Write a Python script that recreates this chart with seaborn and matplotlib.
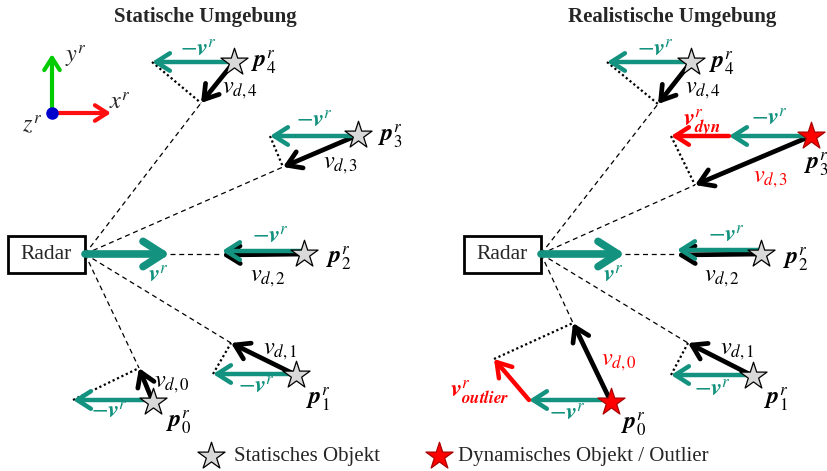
import matplotlib
matplotlib.use("Agg")
import matplotlib.pyplot as plt
import seaborn as sns
import pandas as pd

# ---- diagram geometry (pixel coordinates of the reference, y downwards) ----
TEAL = '#13927f'
RED = '#ff0000'

radar_L = (85, 254)
radar_R = (541, 254)
vr_tip_L = (170, 254)
vr_tip_R = (625, 254)

# left panel: static scene, points p0..p4
stars_L_x = [153, 296, 304, 358, 234]
stars_L_y = [402, 375, 254, 135, 62]
vneg_L_x = [73, 213, 222, 270, 152]
vneg_L_y = [400, 374, 251, 136, 62]
vd_L_x = [139, 231, 222, 283, 201]
vd_L_y = [368, 343, 255, 167, 103]

# right panel: realistic scene, points p0..p4
stars_R_x = [611, 753, 761, 811, 691]
stars_R_y = [402, 376, 254, 136, 62]
stars_R_dyn = [True, False, False, True, False]
vneg_R_x = [529, 671, 677, 729, 607]
vneg_R_y = [400, 375, 250, 136, 62]
vd_R_x = [573, 688, 677, 695, 658]
vd_R_y = [323, 343, 255, 185, 104]
vdyn_tip = (671, 136)
voutlier_tip = (494, 359)


def arrow(ax, start, end, color, lw=3.2, scale=18, z=3):
    ax.annotate('', xy=end, xytext=start, zorder=z,
                arrowprops=dict(arrowstyle='->,head_length=0.55,head_width=0.35',
                                lw=lw, color=color, shrinkA=0, shrinkB=0,
                                mutation_scale=scale, capstyle='round',
                                joinstyle='round'))


def line(ax, a, b, style):
    if style == 'dash':
        ax.plot([a[0], b[0]], [a[1], b[1]], color='black', lw=0.9,
                dashes=(4, 3), zorder=1)
    else:
        ax.plot([a[0], b[0]], [a[1], b[1]], color='black', lw=1.6,
                ls=(0, (1, 1.2)), zorder=1)


sns.set_style('white')
plt.rcParams['font.family'] = ['Liberation Serif', 'DejaVu Serif']
plt.rcParams['mathtext.fontset'] = 'stix'

fig = plt.figure(figsize=(8.28, 4.71), dpi=100)
ax = fig.add_axes([0, 0, 1, 1])
ax.set_xlim(0, 828)
ax.set_ylim(471, 0)
ax.axis('off')

MS = 17.5  # math label size

# titles
ax.text(205, 17, 'Statische Umgebung', ha='center', va='center',
        fontsize=15, fontweight='bold')
ax.text(672, 17, 'Realistische Umgebung', ha='center', va='center',
        fontsize=15, fontweight='bold')

# coordinate frame
arrow(ax, (52, 113), (52, 54), '#00cc00', lw=3, scale=16)
arrow(ax, (52, 113), (111, 113), '#ff1010', lw=3, scale=16)
ax.plot([52], [113], 'o', color='#0000cc', ms=8, zorder=5)
ax.text(76, 63, '$y^r$', fontsize=MS, ha='center', va='baseline')
ax.text(120, 110, '$x^r$', fontsize=MS, ha='center', va='baseline')
ax.text(32, 132, '$z^r$', fontsize=MS, ha='center', va='baseline')

# radar boxes and ego velocity
for (rx, ry), tip in [(radar_L, vr_tip_L), (radar_R, vr_tip_R)]:
    ax.add_patch(plt.Rectangle((rx - 77, ry - 18), 77, 37, fill=False,
                               lw=2, ec='black', zorder=2))
    ax.text(rx - 38.5, ry + 0.5, 'Radar', ha='center', va='center', fontsize=15.5)
    arrow(ax, (rx, ry), tip, TEAL, lw=5.5, scale=26, z=4)
    ax.text(tip[0] - 12, ry + 29, r'$\mathbfit{v}^r$', color=TEAL,
            fontsize=MS, ha='center', va='baseline')
    line(ax, tip, (tip[0] + 52, ry), 'dash')

# left panel vectors
for i in range(5):
    s = (stars_L_x[i], stars_L_y[i])
    vn = (vneg_L_x[i], vneg_L_y[i])
    vd = (vd_L_x[i], vd_L_y[i])
    if i != 2:
        line(ax, radar_L, vd, 'dash')
        line(ax, vn, vd, 'dot')
    arrow(ax, s, vd, 'black', lw=3.4)
    arrow(ax, (s[0], vn[1]), vn, TEAL, lw=3.2)

# right panel vectors
for i in range(5):
    s = (stars_R_x[i], stars_R_y[i])
    vn = (vneg_R_x[i], vneg_R_y[i])
    vd = (vd_R_x[i], vd_R_y[i])
    if i != 2:
        line(ax, radar_R, vd, 'dash')
    arrow(ax, s, vd, 'black', lw=3.4)
    arrow(ax, (s[0], vn[1]), vn, TEAL, lw=3.2)
    if i == 3:
        arrow(ax, vn, vdyn_tip, RED, lw=3.2)
        line(ax, vdyn_tip, vd, 'dot')
    elif i == 0:
        arrow(ax, vn, voutlier_tip, RED, lw=3.2)
        line(ax, voutlier_tip, vd, 'dot')
    elif i != 2:
        line(ax, vn, vd, 'dot')

# stars
stars = pd.DataFrame({
    'x': stars_L_x + stars_R_x,
    'y': stars_L_y + stars_R_y,
    'dyn': [False] * 5 + stars_R_dyn,
})
for dyn, fc in [(False, '#d9d9d9'), (True, RED)]:
    sub = stars[stars['dyn'] == dyn]
    sns.scatterplot(data=sub, x='x', y='y', marker='*', s=420, color=fc,
                    edgecolor='black' if not dyn else '#aa0000',
                    linewidth=0.9, zorder=6, ax=ax, legend=False)
ax.set_xlim(0, 828)
ax.set_ylim(471, 0)
ax.axis('off')

# labels (x centre, baseline y)
labels = [
    # left
    (264, 67, r'$\mathbfit{p}_4^r$', 'black'),
    (240, 93, r'$v_{d,4}$', 'black'),
    (198, 57, r'$-\mathbfit{v}^r$', TEAL),
    (390, 141, r'$\mathbfit{p}_3^r$', 'black'),
    (341, 168, r'$v_{d,3}$', 'black'),
    (314, 128, r'$-\mathbfit{v}^r$', TEAL),
    (339, 263, r'$\mathbfit{p}_2^r$', 'black'),
    (268, 281, r'$v_{d,2}$', 'black'),
    (270, 244, r'$-\mathbfit{v}^r$', TEAL),
    (318, 404, r'$\mathbfit{p}_1^r$', 'black'),
    (280, 354, r'$v_{d,1}$', 'black'),
    (256, 394, r'$-\mathbfit{v}^r$', TEAL),
    (179, 427, r'$\mathbfit{p}_0^r$', 'black'),
    (172, 387, r'$v_{d,0}$', 'black'),
    (109, 419, r'$-\mathbfit{v}^r$', TEAL),
    # right
    (722, 68, r'$\mathbfit{p}_4^r$', 'black'),
    (703, 93, r'$v_{d,4}$', 'black'),
    (655, 57, r'$-\mathbfit{v}^r$', TEAL),
    (816, 169, r'$\mathbfit{p}_3^r$', 'black'),
    (771, 182, r'$v_{d,3}$', RED),
    (769, 126, r'$-\mathbfit{v}^r$', TEAL),
    (702, 127, r'$\mathbfit{v}^r_{\mathbfit{dyn}}$', RED),
    (796, 264, r'$\mathbfit{p}_2^r$', 'black'),
    (722, 281, r'$v_{d,2}$', 'black'),
    (726, 243, r'$-\mathbfit{v}^r$', TEAL),
    (776, 404, r'$\mathbfit{p}_1^r$', 'black'),
    (737, 354, r'$v_{d,1}$', 'black'),
    (712, 397, r'$-\mathbfit{v}^r$', TEAL),
    (634, 429, r'$\mathbfit{p}_0^r$', 'black'),
    (619, 365, r'$v_{d,0}$', RED),
    (567, 421, r'$-\mathbfit{v}^r$', TEAL),
    (480, 397, r'$\mathbfit{v}^r_{\mathbfit{outlier}}$', RED),
]
for x, y, txt, c in labels:
    ax.text(x, y, txt, color=c, fontsize=MS, ha='center', va='baseline')

# legend row
ax.scatter([211], [456], marker='*', s=420, color='#d9d9d9',
           edgecolor='black', linewidth=0.9, zorder=6)
ax.text(234, 457, 'Statisches Objekt', fontsize=15, va='center')
ax.scatter([439], [456], marker='*', s=420, color=RED,
           edgecolor='#aa0000', linewidth=0.9, zorder=6)
ax.text(458, 457, 'Dynamisches Objekt / Outlier', fontsize=15, va='center')

fig.savefig('out.png', dpi=100)
